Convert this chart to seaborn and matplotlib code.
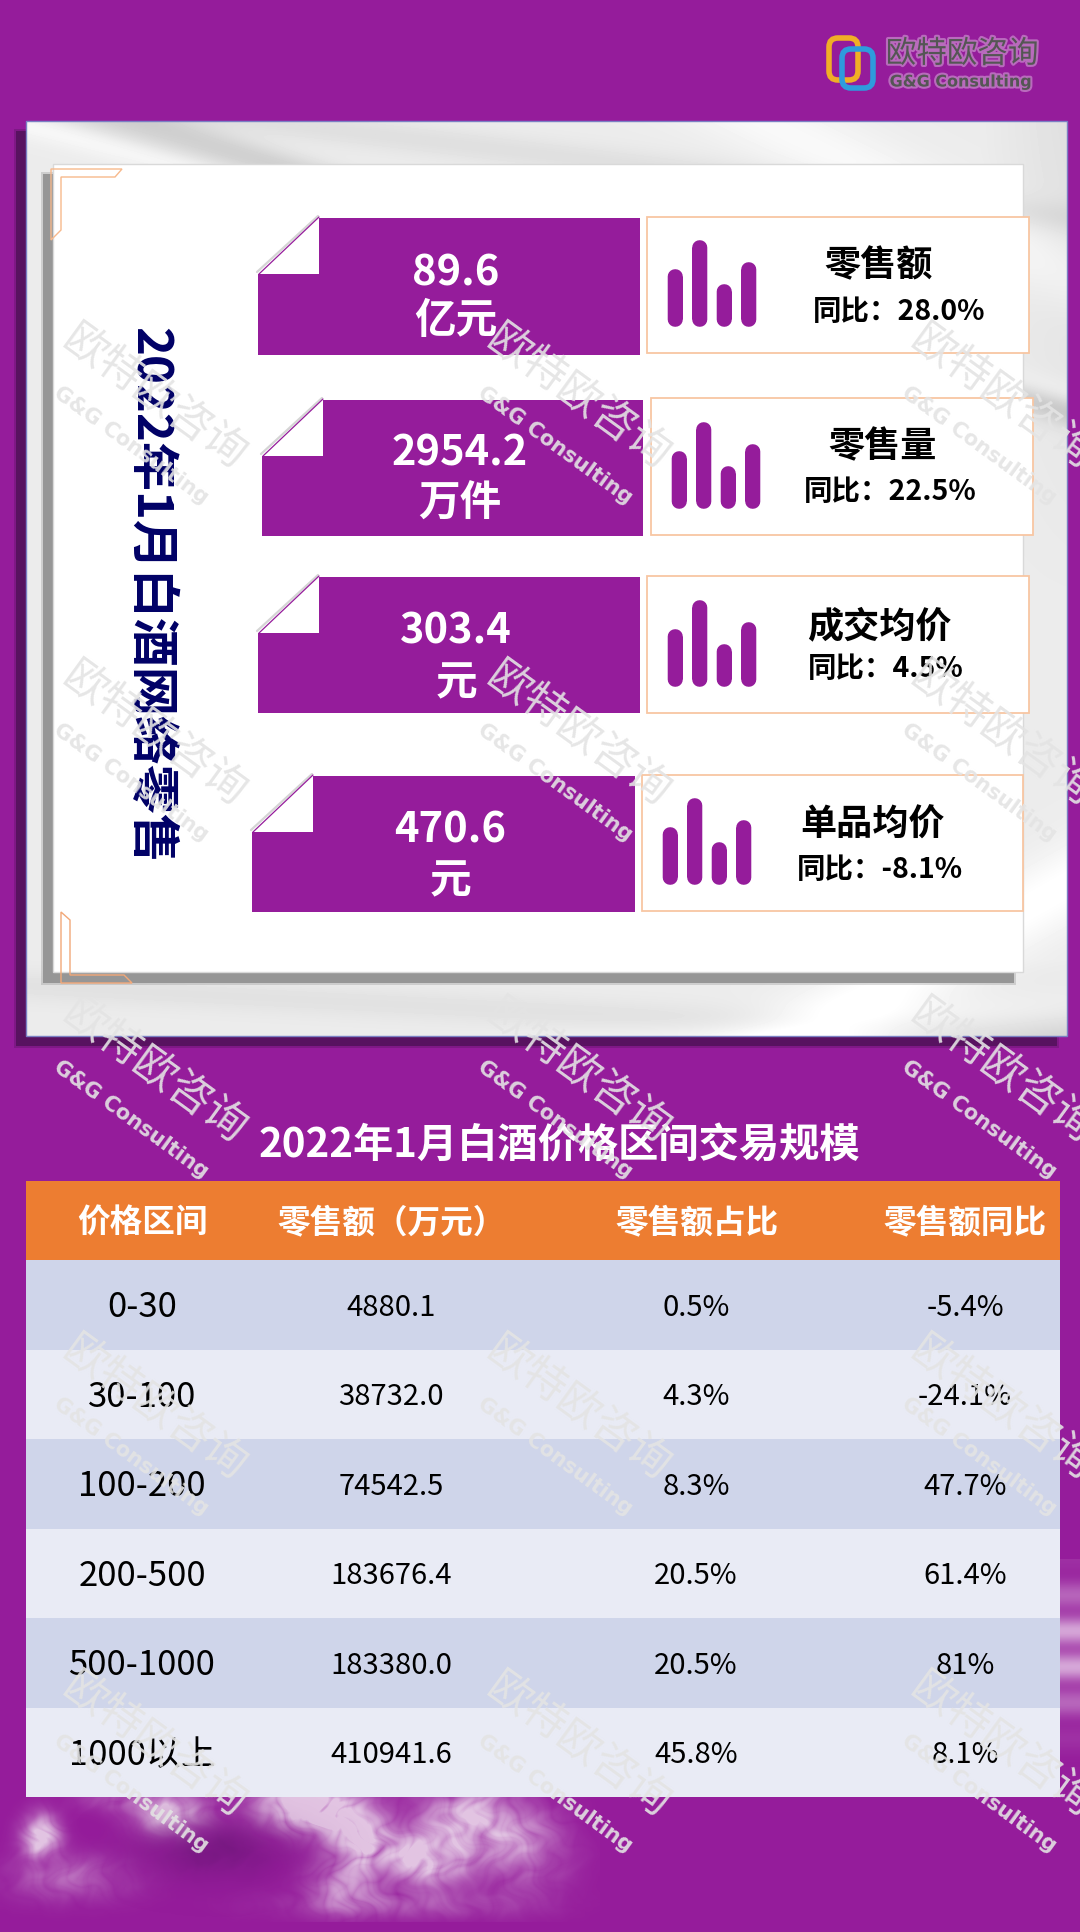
# 2022年1月白酒网络零售 信息图
import numpy as np
import pandas as pd
import seaborn as sns
import matplotlib.pyplot as plt
import matplotlib.patheffects as pe
from matplotlib.colors import ListedColormap
from matplotlib.patches import Rectangle, Polygon, FancyBboxPatch

# 数据
metric_values = ["89.6", "2954.2", "303.4", "470.6"]
metric_units = ["亿元", "万件", "元", "元"]
metric_names = ["零售额", "零售量", "成交均价", "单品均价"]
metric_yoy = ["同比：28.0%", "同比：22.5%", "同比：4.5%", "同比：-8.1%"]
icon_heights = [58, 87, 43, 65]

table_title = "2022年1月白酒价格区间交易规模"
table_headers = ["价格区间", "零售额（万元）", "零售额占比", "零售额同比"]
price_ranges = ["0-30", "30-100", "100-200", "200-500", "500-1000", "1000以上"]
sales = ["4880.1", "38732.0", "74542.5", "183676.4", "183380.0", "410941.6"]
shares = ["0.5%", "4.3%", "8.3%", "20.5%", "20.5%", "45.8%"]
yoys = ["-5.4%", "-24.1%", "47.7%", "61.4%", "81%", "8.1%"]

W, H = 1080, 1933
PURPLE = "#951C9B"
NAVY = "#000066"
PEACH = "#F8C6A2"

sns.set_theme(style="white")
plt.rcParams["font.family"] = ["Noto Sans CJK SC", "DejaVu Sans"]

fig = plt.figure(figsize=(W / 100, H / 100), dpi=100, facecolor=PURPLE)


def px_axes(x0, y0, x1, y1, z):
    ax = fig.add_axes([x0 / W, 1 - y1 / H, (x1 - x0) / W, (y1 - y0) / H], zorder=z)
    return ax


def layer(z):
    ax = px_axes(0, 0, W, H, z)
    ax.set_xlim(0, W)
    ax.set_ylim(H, 0)
    ax.axis("off")
    ax.patch.set_alpha(0)
    return ax


def soft_rect(ax, x, y, w, h, color, z):
    # 阴影边缘稍微虚一点
    ax.add_patch(Rectangle((x - 2, y - 2), w + 4, h + 4, fc=color, ec="none", alpha=0.35, zorder=z))
    ax.add_patch(Rectangle((x, y), w, h, fc=color, ec="none", zorder=z))


base = layer(0)

# 底部云
yy, xx = np.mgrid[1790:1923, 0:600]
wx = xx + 9 * np.sin(yy / 11.0) + 5 * np.sin(yy / 4.7 + xx / 19.0)
wy = yy + 9 * np.sin(xx / 13.0) + 5 * np.sin(xx / 5.3 - yy / 17.0)
puff = np.zeros(xx.shape)
for kx, ky, ph, amp in [(0.031, 0.043, 0.4, 1.0), (0.057, -0.038, 1.9, 0.8), (0.089, 0.071, 2.7, 0.6),
                        (-0.123, 0.097, 0.9, 0.45), (0.171, 0.139, 4.1, 0.3), (0.233, -0.187, 5.2, 0.22)]:
    puff += amp * np.abs(np.sin(kx * wx + ky * wy + ph))
puff = puff / 3.37
glow = np.zeros(xx.shape)
for cx, cy, sx, sy, amp in [(310, 1808, 48, 24, 1.25), (172, 1815, 34, 20, 0.85), (365, 1842, 34, 24, 0.95),
                            (427, 1862, 38, 24, 0.8), (344, 1885, 34, 24, 0.5), (468, 1820, 50, 34, 0.7),
                            (41, 1838, 18, 22, 0.85), (69, 1878, 60, 22, 0.3), (520, 1850, 45, 40, 0.4),
                            (120, 1800, 40, 12, 0.25), (400, 1905, 110, 14, 0.25)]:
    glow += amp * np.exp(-((xx - cx) / sx) ** 2 - ((yy - cy) / sy) ** 2)
alpha = np.clip(glow * (0.25 + 1.25 * puff), 0, 0.88)
dark = np.clip(0.55 * np.exp(-((xx - 215) / 70) ** 2 - ((yy - 1850) / 30) ** 2) * (0.7 + 0.6 * puff), 0, 1)
cloud = np.ones(xx.shape + (4,))
cloud[..., 0] = 0.93
cloud[..., 1] = 0.87
cloud[..., 2] = 0.93
cloud[..., 3] = alpha
base.imshow(cloud, extent=(0, 600, 1923, 1790), aspect="auto", zorder=1)
shadow = np.zeros(xx.shape + (4,))
shadow[..., 0] = 0.42
shadow[..., 1] = 0.09
shadow[..., 2] = 0.47
shadow[..., 3] = dark
base.imshow(shadow, extent=(0, 600, 1923, 1790), aspect="auto", zorder=1.5)

yy2, xx2 = np.mgrid[1560:1800, 1060:1080]
side = np.ones(xx2.shape + (4,))
side[..., 3] = np.clip(0.6 * np.exp(-((yy2 - 1650) / 65) ** 2) * (0.75 + 0.35 * np.sin(yy2 / 6.0)), 0, 1)
base.imshow(side, extent=(1060, 1080, 1800, 1560), aspect="auto", zorder=1)
base.set_xlim(0, W)
base.set_ylim(H, 0)

# 外框
soft_rect(base, 16, 132, 1041, 915, "#581260", 2)
yy3, xx3 = np.mgrid[122:1037, 26:1067]
silk = np.full(xx3.shape, 0.925)
for slope, off, width, amp in [(0.30, 90, 18, -0.08), (0.32, 72, 14, -0.05), (0.26, 118, 14, 0.05),
                               (0.12, 90, 16, -0.05), (-0.55, 1470, 40, 0.05), (-0.6, 1530, 45, 0.03),
                               (0.05, 985, 16, -0.04), (-0.12, 1135, 26, 0.05), (0.5, -260, 40, 0.05)]:
    silk += amp * np.exp(-((yy3 - (slope * xx3 + off)) / width) ** 2)
silk -= 0.07 * np.clip((xx3 - 880) / 190, 0, 1) * np.clip((yy3 - 960) / 60, 0, 1)
silk -= 0.05 * np.clip((xx3 - 980) / 90, 0, 1) * np.clip((620 - yy3) / 500, 0, 1)
base.imshow(np.clip(silk, 0, 1), extent=(26, 1067, 1037, 122), aspect="auto", cmap="gray",
            vmin=0, vmax=1, zorder=3)
base.set_xlim(0, W)
base.set_ylim(H, 0)
base.add_patch(Rectangle((26, 122), 1041, 915, fc="none", ec="#7B80C4", lw=1, zorder=4))
soft_rect(base, 43, 175, 971, 809, "#969696", 4)
base.add_patch(Rectangle((53, 165), 970, 808, fc="white", ec="#D9D9D9", lw=1, zorder=5))

# 角标
base.add_patch(Polygon([(51, 170), (122, 170), (115, 178), (61, 178), (61, 231), (51, 241)],
                       fc="none", ec="#F7B98C", lw=1, zorder=6))
base.add_patch(Polygon([(61, 913), (70, 921), (70, 976), (124, 976), (132, 984), (61, 984)],
                       fc="none", ec="#F2A878", lw=1, zorder=6))

# 四行指标
banners = [(258, 640, 219, 356), (262, 643, 401, 537), (258, 640, 578, 714), (252, 635, 777, 913)]
boxes = [(647, 1029, 218, 354), (651, 1033, 399, 536), (647, 1029, 577, 714), (642, 1023, 776, 912)]
value_xy = [(456, 273), (460, 453), (456, 632), (450, 831)]
unit_xy = [(456, 321), (460, 504), (456, 683), (450, 881)]
name_xy = [(879, 266), (883, 447), (879, 627), (873, 825)]
yoy_xy = [(899, 312), (890, 492), (886, 669), (880, 870)]

text_ax = layer(3)
for i, (bx0, bx1, by0, by1) in enumerate(banners):
    base.add_patch(Rectangle((bx0, by0), bx1 - bx0, by1 - by0, fc=PURPLE, ec="none", zorder=6))
    base.add_patch(Rectangle((bx0 - 1, by0 - 1), 62, 57, fc="white", ec="none", zorder=7))
    base.plot([bx0 - 1, bx0 + 60], [by0 + 54, by0 - 2], color="#D5D5D5", lw=1.6, zorder=7)
    base.plot([bx0 + 1, bx0 + 61], [by0 + 56, by0 - 1], color=PURPLE, lw=0.9, zorder=8)
    text_ax.text(*value_xy[i], metric_values[i], color="white", fontsize=30, fontweight="bold",
                 ha="center", va="center")
    text_ax.text(*unit_xy[i], metric_units[i], color="white", fontsize=30, fontweight="bold",
                 ha="center", va="center")

    x0, x1, y0, y1 = boxes[i]
    base.add_patch(Rectangle((x0, y0), x1 - x0, y1 - y0, fc="white", ec=PEACH, lw=1.3, zorder=6))
    text_ax.text(*name_xy[i], metric_names[i], color="black", fontsize=26, fontweight="bold",
                 ha="center", va="center")
    text_ax.text(*yoy_xy[i], metric_yoy[i], color="black", fontsize=20.5, fontweight="bold",
                 ha="center", va="center")

    # 小柱图标
    icon = px_axes(x0 + 16, y1 - 126, x0 + 114, y1 - 26, 2)
    sns.barplot(x=list(range(4)), y=icon_heights, color=PURPLE, saturation=1, width=0.02, ax=icon)
    icon.set_ylim(0, 100)
    icon.axis("off")
    for p in icon.patches:
        h = p.get_height()
        p.set_y(7.5)
        p.set_height(h - 15)
        p.set_linewidth(10.5)
        p.set_edgecolor(PURPLE)
        p.set_joinstyle("round")
        p.set_capstyle("round")
        p.set_snap(False)
        p.set_clip_on(False)

text_ax.text(150, 595, "2022年1月白酒网络零售", color=NAVY, fontsize=35.3, fontweight="bold",
             rotation=270, ha="center", va="center")

# 表格
text_ax.text(559, 1146, table_title, color="white", fontsize=29, fontweight="bold",
             ha="center", va="center")
base.add_patch(Rectangle((26, 1182), 1034, 79, fc="#ED7D31", ec="none", zorder=6))
tbl = px_axes(26, 1261, 1060, 1798, 1)
band = pd.DataFrame({"band": [0, 1, 0, 1, 0, 1]}, index=price_ranges)
sns.heatmap(band, ax=tbl, cmap=ListedColormap(["#CFD5EA", "#E9EBF5"]), cbar=False,
            xticklabels=False, yticklabels=False)

col_x = [142, 391, 696, 965]
head_x = [142, 392, 697, 965]
for x, label in zip(head_x, table_headers):
    text_ax.text(x, 1223, label, color="white", fontsize=23.5, fontweight="bold", ha="center", va="center")
for i in range(len(price_ranges)):
    y = 1263 + 89.5 * (i + 0.5)
    text_ax.text(col_x[0], y, price_ranges[i], color="black", fontsize=25, ha="center", va="center")
    text_ax.text(col_x[1], y, sales[i], color="black", fontsize=21, ha="center", va="center")
    text_ax.text(col_x[2], y, shares[i], color="black", fontsize=21, ha="center", va="center")
    text_ax.text(col_x[3], y, yoys[i], color="black", fontsize=21, ha="center", va="center")

# 水印
mark = layer(5)
for row in range(5):
    for col in range(3):
        cx = 154 + 424 * col
        cy = 398 + 337 * row
        mark.text(cx, cy, "欧特欧咨询", color="#E4E4E4", alpha=0.9, fontsize=31, rotation=-36,
                  rotation_mode="anchor", ha="center", va="center", clip_on=True)
        mark.text(cx - 23, cy + 47, "G&G Consulting", color="#E4E4E4", alpha=0.9, fontsize=15,
                  fontweight="bold", rotation=-36, rotation_mode="anchor", ha="center", va="center",
                  family="DejaVu Sans", clip_on=True)

# 标志
glow_fx = [pe.withStroke(linewidth=3, foreground="white", alpha=0.35)]
logo = layer(6)
orange = FancyBboxPatch((829, 39), 29, 42, boxstyle="round,pad=0,rounding_size=9", fc="none",
                        ec="#F0AE26", lw=4)
blue = FancyBboxPatch((842, 50), 31, 39, boxstyle="round,pad=0,rounding_size=9", fc="none",
                      ec="#2E9BDD", lw=4)
logo.add_patch(orange)
logo.add_patch(blue)
logo.text(962, 55, "欧特欧咨询", color="#555555", fontsize=22, ha="center", va="center", path_effects=glow_fx)
logo.text(961, 83, "G&G Consulting", color="#555555", fontsize=11.5, fontweight="bold", ha="center",
          va="center", family="DejaVu Sans", path_effects=glow_fx)

fig.savefig("out.png", dpi=100, facecolor=PURPLE)
